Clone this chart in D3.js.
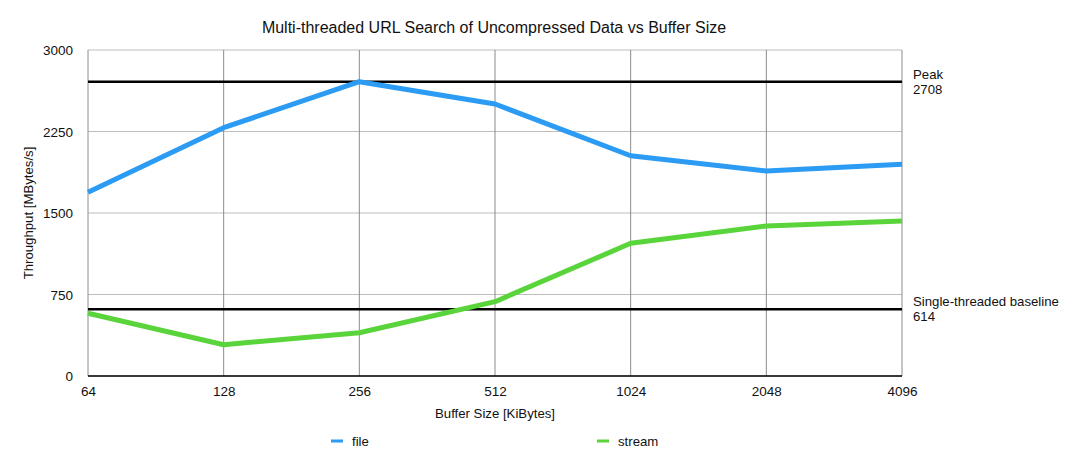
<!DOCTYPE html>
<html>
<head>
<meta charset="utf-8">
<script src="https://cdn.jsdelivr.net/npm/d3@7"></script>
<style>
body{margin:0;background:#fff;}
text{font-family:"Liberation Sans",Arial,Helvetica,sans-serif;fill:#111;}
</style>
</head>
<body>
<div id="chart"></div>
<script>
// data
var bufferSizes=["64","128","256","512","1024","2048","4096"];
var fileValues=[1690,2285,2708,2503,2027,1886,1948];
var streamValues=[577,288,398,684,1221,1380,1426];
var yTicks=[0,750,1500,2250,3000];
var refLabels=["Peak","Single-threaded baseline"];
var refValues=[2708,614];

var svgWidth=1079, svgHeight=467;
var margin={top:50,right:177,bottom:91,left:88};
var chartWidth=svgWidth-margin.left-margin.right;
var chartHeight=svgHeight-margin.top-margin.bottom;

var svg=d3.select("#chart").append("svg")
    .attr("width",svgWidth)
    .attr("height",svgHeight);

var chartGroup=svg.append("g")
    .attr("transform",`translate(${margin.left},${margin.top})`);

var xScale=d3.scalePoint().domain(bufferSizes).range([0,chartWidth]);
var yScale=d3.scaleLinear().domain([0,3000]).range([chartHeight,0]);

// horizontal grid
chartGroup.append("g")
    .selectAll("line")
    .data(yTicks)
    .enter()
    .append("line")
    .attr("x1",0).attr("x2",chartWidth)
    .attr("y1",d=>yScale(d)).attr("y2",d=>yScale(d))
    .attr("stroke","#bdbdbd").attr("stroke-width",1);

// vertical grid
chartGroup.append("g")
    .selectAll("line")
    .data(bufferSizes)
    .enter()
    .append("line")
    .attr("x1",d=>xScale(d)).attr("x2",d=>xScale(d))
    .attr("y1",0).attr("y2",chartHeight)
    .attr("stroke","#8c8c8c").attr("stroke-width",1);

// y axis labels
var leftAxis=d3.axisLeft(yScale).tickValues(yTicks).tickFormat(d3.format("d")).tickSize(0).tickPadding(15);
var yAxis=chartGroup.append("g").call(leftAxis);
yAxis.select(".domain").remove();
yAxis.selectAll("text").attr("font-size","13.5px").attr("dy","0.35em");

// x axis
var bottomAxis=d3.axisBottom(xScale).tickSize(0).tickPadding(10);
var xAxis=chartGroup.append("g")
    .attr("transform",`translate(0,${chartHeight})`)
    .call(bottomAxis);
xAxis.select(".domain").remove();
xAxis.selectAll("text").attr("font-size","13.5px");

chartGroup.append("line")
    .attr("x1",0).attr("x2",chartWidth)
    .attr("y1",chartHeight).attr("y2",chartHeight)
    .attr("stroke","#000").attr("stroke-width",1.5);

// reference lines
chartGroup.append("g")
    .selectAll("line")
    .data(refValues)
    .enter()
    .append("line")
    .attr("x1",0).attr("x2",chartWidth)
    .attr("y1",d=>yScale(d)).attr("y2",d=>yScale(d))
    .attr("stroke","#000").attr("stroke-width",2.5);

var refText=chartGroup.append("g")
    .selectAll("text")
    .data(refValues)
    .enter()
    .append("text")
    .attr("x",chartWidth+11)
    .attr("y",d=>yScale(d)-3)
    .attr("font-size","13.2px");
refText.append("tspan").attr("x",chartWidth+11).text((d,i)=>refLabels[i]);
refText.append("tspan").attr("x",chartWidth+11).attr("dy","1.15em").text(d=>d);

// series lines
var line=d3.line().x((d,i)=>xScale(bufferSizes[i])).y(d=>yScale(d));
var series=[{name:"file",values:fileValues,color:"#2b9bf4"},
            {name:"stream",values:streamValues,color:"#5ad43b"}];

chartGroup.selectAll(".series")
    .data(series)
    .enter()
    .append("path")
    .attr("class","series")
    .attr("d",d=>line(d.values))
    .attr("fill","none")
    .attr("stroke",d=>d.color)
    .attr("stroke-width",5)
    .attr("stroke-linejoin","round");

// title
svg.append("text")
    .attr("x",494).attr("y",33)
    .attr("text-anchor","middle")
    .attr("font-size","16px")
    .text("Multi-threaded URL Search of Uncompressed Data vs Buffer Size");

// axis titles
svg.append("text")
    .attr("x",495).attr("y",418)
    .attr("text-anchor","middle")
    .attr("font-size","13.2px")
    .text("Buffer Size [KiBytes]");

svg.append("text")
    .attr("transform","translate(33,213) rotate(-90)")
    .attr("text-anchor","middle")
    .attr("font-size","13.2px")
    .text("Throughput [MBytes/s]");

// legend
var legendX=[331,597];
var legend=svg.append("g")
    .selectAll("g")
    .data(series)
    .enter()
    .append("g")
    .attr("transform",(d,i)=>`translate(${legendX[i]},441)`);
legend.append("line")
    .attr("x1",0).attr("x2",12)
    .attr("stroke",d=>d.color).attr("stroke-width",3);
legend.append("text")
    .attr("x",21).attr("y",4.5)
    .attr("font-size","13.2px")
    .text(d=>d.name);
</script>
</body>
</html>
